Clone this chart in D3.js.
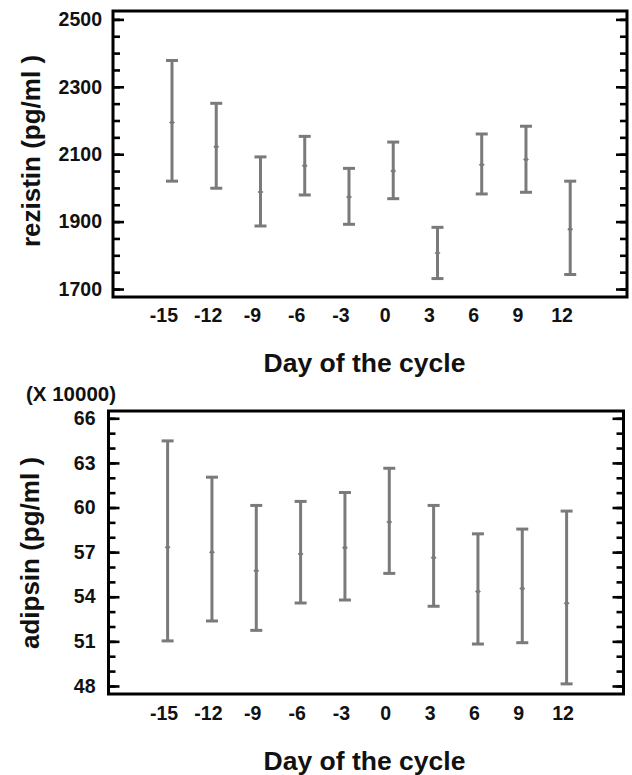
<!DOCTYPE html>
<html>
<head>
<meta charset="utf-8">
<script src="https://cdn.jsdelivr.net/npm/d3@7"></script>
<style>
  html, body { margin: 0; padding: 0; background: #fff; }
  svg { display: block; }
  text { font-family: "Liberation Sans", Arial, Helvetica, sans-serif; font-weight: bold; fill: #111; }
</style>
</head>
<body>
<svg id="chart" width="632" height="775"></svg>
<script>
// ---- data ----
const days = [-15, -12, -9, -6, -3, 0, 3, 6, 9, 12];

const rezistinMean  = [2194, 2122, 1988, 2066, 1973, 2050, 1807, 2069, 2084, 1877];
const rezistinUpper = [2378, 2251, 2092, 2153, 2058, 2136, 1883, 2160, 2183, 2020];
const rezistinLower = [2020, 1999, 1887, 1979, 1892, 1968, 1731, 1982, 1987, 1743];
const rezistinTicks = [1700, 1900, 2100, 2300, 2500];
const rezistinMinorTicks = d3.range(1700, 2501, 50);

const adipsinMean  = [57.32, 57.00, 55.75, 56.87, 57.29, 59.02, 56.62, 54.36, 54.56, 53.56];
const adipsinUpper = [64.48, 62.04, 60.14, 60.41, 61.01, 62.64, 60.14, 58.23, 58.55, 59.76];
const adipsinLower = [51.03, 52.37, 51.74, 53.58, 53.78, 55.57, 53.36, 50.82, 50.91, 48.14];
const adipsinTicks = [48, 51, 54, 57, 60, 63, 66];
const adipsinMinorTicks = d3.range(48, 67, 1);

const xTitle = "Day of the cycle";

// ---- drawing ----
const svg = d3.select("#chart");
const barColor = "#7a7a7a";
const fmt = d => String(d);

function panel(cfg) {
  const { left, right, top, bottom, yDomain, mean, upper, lower, ticks, minor,
          yTitle, yTitleX, labelDx, labelY, titleY } = cfg;
  const x = d3.scaleLinear().domain([-19, 15.85]).range([left, right]);
  const y = d3.scaleLinear().domain(yDomain).range([bottom, top]);
  const g = svg.append("g");

  const styleText = s => s.selectAll("text").attr("font-size", 19.5).attr("fill", "#111")
      .attr("font-family", '"Liberation Sans", Arial, sans-serif').attr("font-weight", "bold");

  // minor ticks left/right
  g.append("g").attr("transform", `translate(${left},0)`)
    .call(d3.axisLeft(y).tickValues(minor).tickSizeInner(-7).tickSizeOuter(0).tickFormat(""))
    .call(s => s.select(".domain").remove())
    .call(s => s.selectAll("line").attr("stroke", "#000").attr("stroke-width", 2.6));
  g.append("g").attr("transform", `translate(${right},0)`)
    .call(d3.axisRight(y).tickValues(minor).tickSizeInner(-7).tickSizeOuter(0).tickFormat(""))
    .call(s => s.select(".domain").remove())
    .call(s => s.selectAll("line").attr("stroke", "#000").attr("stroke-width", 2.6));
  // major ticks
  g.append("g").attr("transform", `translate(${left},0)`)
    .call(d3.axisLeft(y).tickValues(ticks).tickSizeInner(-11).tickSizeOuter(0).tickPadding(cfg.tickPad).tickFormat(fmt))
    .call(s => s.select(".domain").remove())
    .call(s => s.selectAll("line").attr("stroke", "#000").attr("stroke-width", 2.6))
    .call(styleText);
  g.append("g").attr("transform", `translate(${right},0)`)
    .call(d3.axisRight(y).tickValues(ticks).tickSizeInner(-11).tickSizeOuter(0).tickFormat(""))
    .call(s => s.select(".domain").remove())
    .call(s => s.selectAll("line").attr("stroke", "#000").attr("stroke-width", 2.6));

  // x tick labels
  g.append("g").attr("transform", `translate(0,${bottom})`)
    .call(d3.axisBottom(x).tickValues(days).tickSize(0).tickPadding(0).tickFormat(fmt))
    .call(s => s.select(".domain").remove())
    .call(styleText)
    .call(s => s.selectAll("text").attr("dx", labelDx).attr("y", labelY - bottom).attr("dy", 0));

  // frame
  g.append("rect").attr("x", left).attr("y", top).attr("width", right - left).attr("height", bottom - top)
    .attr("fill", "none").attr("stroke", "#000").attr("stroke-width", 3);

  // error bars
  const data = days.map((d, i) => ({ d, m: mean[i], hi: upper[i], lo: lower[i] }));
  const bars = g.append("g").selectAll("g").data(data).join("g");
  bars.append("line").attr("x1", p => x(p.d)).attr("x2", p => x(p.d))
    .attr("y1", p => y(p.hi)).attr("y2", p => y(p.lo))
    .attr("stroke", barColor).attr("stroke-width", 3);
  bars.append("line").attr("x1", p => x(p.d) - 6).attr("x2", p => x(p.d) + 6)
    .attr("y1", p => y(p.hi)).attr("y2", p => y(p.hi))
    .attr("stroke", barColor).attr("stroke-width", 3);
  bars.append("line").attr("x1", p => x(p.d) - 6).attr("x2", p => x(p.d) + 6)
    .attr("y1", p => y(p.lo)).attr("y2", p => y(p.lo))
    .attr("stroke", barColor).attr("stroke-width", 3);
  bars.append("path")
    .attr("d", p => { const cx = x(p.d), cy = y(p.m);
      return `M${cx - 3},${cy} L${cx},${cy - 2.5} L${cx + 3},${cy} L${cx},${cy + 2.5} Z`; })
    .attr("fill", barColor);

  // titles
  g.append("text").attr("x", 364.5).attr("y", titleY)
    .attr("text-anchor", "middle").attr("font-size", 26.5).text(xTitle);
  g.append("text").attr("transform", `translate(${yTitleX},${cfg.yTitleY}) rotate(-90)`)
    .attr("text-anchor", "middle").attr("font-size", 26).text(yTitle);
}

panel({
  left: 113, right: 627, top: 11, bottom: 297,
  yDomain: [1676.3, 2524.9],
  mean: rezistinMean, upper: rezistinUpper, lower: rezistinLower,
  ticks: rezistinTicks, minor: rezistinMinorTicks, tickPad: 11,
  yTitle: "rezistin (pg/ml )", yTitleX: 40, yTitleY: 151,
  labelDx: -8.6, labelY: 322, titleY: 372
});

panel({
  left: 108.5, right: 623.5, top: 411, bottom: 694,
  yDomain: [47.46, 66.49],
  mean: adipsinMean, upper: adipsinUpper, lower: adipsinLower,
  ticks: adipsinTicks, minor: adipsinMinorTicks, tickPad: 13,
  yTitle: "adipsin (pg/ml )", yTitleX: 39, yTitleY: 553,
  labelDx: -4, labelY: 720, titleY: 770
});

svg.append("text").attr("x", 26).attr("y", 400.5).attr("font-size", 20.5).text("(X 10000)");
</script>
</body>
</html>
